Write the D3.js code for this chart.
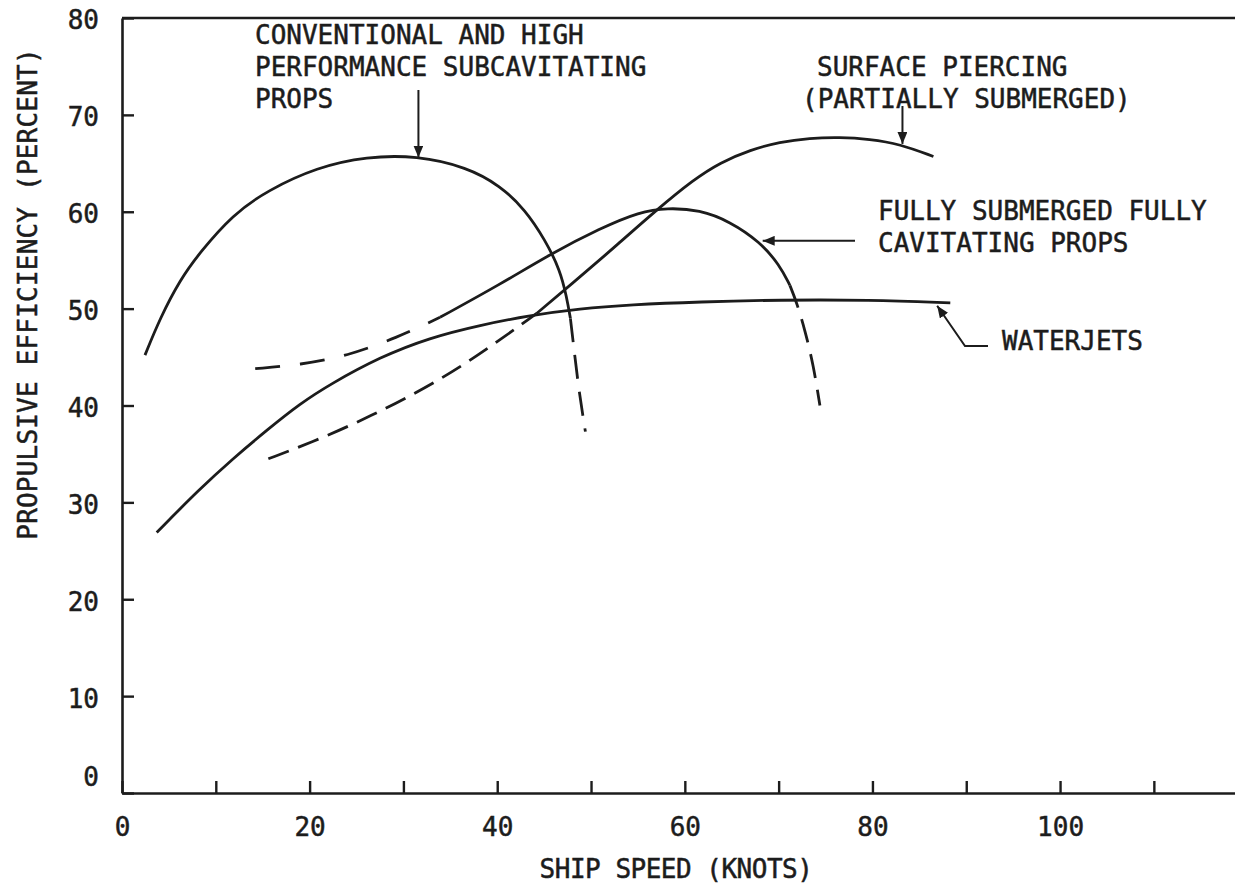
<!DOCTYPE html>
<html>
<head>
<meta charset="utf-8">
<script src="https://cdn.jsdelivr.net/npm/d3@7"></script>
<style>
  body { margin: 0; background: #fff; }
  svg text { font-family: "DejaVu Sans Mono", monospace; font-size: 26px; fill: #1c1c1c; stroke: #1c1c1c; stroke-width: 0.5px; }
</style>
</head>
<body>
<svg id="chart" width="1235" height="884"></svg>
<script>
// axis ticks
var xTicks = [0, 10, 20, 30, 40, 50, 60, 70, 80, 90, 100, 110];
var xLabelled = [0, 20, 40, 60, 80, 100];
var yTicks = [0, 10, 20, 30, 40, 50, 60, 70, 80];

// curves, [ship speed (knots), propulsive efficiency (%)]
var convSolid = [[2.45, 45.2], [4.05, 49.0], [6.2, 53.0], [8.3, 55.8], [11.8, 59.7], [15.5, 62.2],
                 [20.8, 64.6], [26.1, 65.7], [31.4, 65.8], [36.8, 64.6], [40.3, 62.7], [43.0, 60.2],
                 [45.1, 57.1], [46.7, 54.0], [47.4, 51.2], [47.8, 49.0]];
var convDash = [[47.8, 49.0], [48.2, 45.7], [48.7, 41.6], [49.4, 37.3]];

var waterjets = [[3.7, 26.9], [8.3, 31.4], [11.8, 34.5], [15.5, 37.5], [19.0, 40.2], [22.2, 42.2],
                 [27.5, 45.0], [32.8, 47.0], [38.2, 48.3], [43.5, 49.3], [48.8, 50.0], [54.2, 50.4],
                 [61.6, 50.7], [70.1, 50.9], [79.7, 50.9], [88.3, 50.6]];

var fullyDashA = [[14.2, 43.8], [19.0, 44.2], [24.0, 45.1], [29.3, 47.0], [33.9, 49.1]];
var fullySolid = [[33.9, 49.1], [40.3, 52.5], [45.6, 55.6], [51.0, 58.3], [55.2, 60.0], [58.1, 60.4],
                  [61.6, 60.2], [64.8, 59.0], [68.0, 56.9], [70.1, 54.5], [71.2, 52.4]];
var fullyDashB = [[71.2, 52.4], [71.9, 50.7], [72.8, 47.8], [73.7, 44.2], [74.4, 40.0]];

var surfDash = [[15.6, 34.5], [20.0, 36.1], [26.4, 38.8], [33.9, 42.6], [39.2, 46.0], [44.2, 49.5]];
var surfSolid = [[44.2, 49.5], [49.1, 53.5], [52.8, 56.6], [57.0, 60.2], [60.9, 63.3], [63.8, 65.1],
                 [67.0, 66.4], [70.1, 67.2], [73.3, 67.6], [76.5, 67.7], [79.7, 67.5], [82.9, 67.0],
                 [86.5, 65.7]];

// labels
var convLabel = ["CONVENTIONAL AND HIGH", "PERFORMANCE SUBCAVITATING", "PROPS"];
var surfLabel = ["SURFACE PIERCING", "(PARTIALLY SUBMERGED)"];
var fullyLabel = ["FULLY SUBMERGED FULLY", "CAVITATING PROPS"];
var jetLabel = ["WATERJETS"];
var xTitle = "SHIP SPEED (KNOTS)";
var yTitle = "PROPULSIVE EFFICIENCY (PERCENT)";

var ink = "#1c1c1c";
var svg = d3.select("#chart");

var x = d3.scaleLinear().domain([0, 118.65]).range([122, 1235]);
var y = d3.scaleLinear().domain([0, 80]).range([793, 18]);

// arrowhead
svg.append("defs").append("marker")
    .attr("id", "head")
    .attr("viewBox", "0 0 12 10")
    .attr("refX", 12).attr("refY", 5)
    .attr("markerWidth", 12).attr("markerHeight", 10)
    .attr("markerUnits", "userSpaceOnUse")
    .attr("orient", "auto")
  .append("path")
    .attr("d", "M0,0 L12,5 L0,10 Z")
    .attr("fill", ink);

// top frame line
svg.append("line")
    .attr("x1", x(0)).attr("x2", 1235)
    .attr("y1", y(80)).attr("y2", y(80))
    .attr("stroke", ink).attr("stroke-width", 2.6);

// x axis
var xAxis = d3.axisBottom(x)
    .tickValues(xTicks)
    .tickSizeInner(-12)
    .tickSizeOuter(0)
    .tickFormat(function(d) { return xLabelled.indexOf(d) >= 0 ? d : ""; });

var gx = svg.append("g")
    .attr("transform", "translate(0," + y(0) + ")")
    .call(xAxis);
gx.select(".domain").attr("stroke", ink).attr("stroke-width", 2.6);
gx.selectAll(".tick line").attr("stroke", ink).attr("stroke-width", 2.4);
gx.selectAll(".tick text")
    .attr("y", 43).attr("dy", 0)
    .style("font-family", "DejaVu Sans Mono").style("font-size", "26px").attr("fill", ink);

// y axis
var yAxis = d3.axisLeft(y)
    .tickValues(yTicks)
    .tickSizeInner(-12)
    .tickSizeOuter(0)
    .tickPadding(23);

var gy = svg.append("g")
    .attr("transform", "translate(" + x(0) + ",0)")
    .call(yAxis);
gy.select(".domain").attr("stroke", ink).attr("stroke-width", 2.6);
gy.selectAll(".tick line").attr("stroke", ink).attr("stroke-width", 2.4);
gy.selectAll(".tick text")
    .attr("dy", function(d) { return d === 0 ? "-0.3em" : "0.42em"; })
    .style("font-family", "DejaVu Sans Mono").style("font-size", "26px").attr("fill", ink);

// axis titles
svg.append("text")
    .attr("x", 676).attr("y", 878)
    .attr("text-anchor", "middle")
    .style("letter-spacing", "-0.5px")
    .text(xTitle);

svg.append("text")
    .attr("transform", "translate(37,294) rotate(-90)")
    .attr("text-anchor", "middle")
    .style("letter-spacing", "0.2px")
    .text(yTitle);

// curves
var line = d3.line()
    .x(function(d) { return x(d[0]); })
    .y(function(d) { return y(d[1]); })
    .curve(d3.curveBasis);

var segments = [
  { pts: convSolid, dash: null },
  { pts: convDash, dash: "24,13" },
  { pts: waterjets, dash: null },
  { pts: fullyDashA, dash: "25,20" },
  { pts: fullySolid, dash: null },
  { pts: fullyDashB, dash: "24,12" },
  { pts: surfDash, dash: "22,10" },
  { pts: surfSolid, dash: null }
];

svg.selectAll("path.curve")
    .data(segments)
    .enter().append("path")
    .attr("class", "curve")
    .attr("d", function(d) { return line(d.pts); })
    .attr("fill", "none")
    .attr("stroke", ink)
    .attr("stroke-width", 2.8)
    .attr("stroke-linecap", "butt")
    .attr("stroke-dasharray", function(d) { return d.dash; });

// annotation text blocks
function block(lines, x0, y0, firstDx) {
  svg.append("g").selectAll("text")
      .data(lines)
      .enter().append("text")
      .attr("x", function(d, i) { return x0 + (i > 0 ? firstDx : 0); })
      .attr("y", function(d, i) { return y0 + i * 32; })
      .text(function(d) { return d; });
}
block(convLabel, 255, 44, 0);
block(surfLabel, 817, 76, -15);   // "(" of the second line hangs to the left
block(fullyLabel, 878, 220, 0);
block(jetLabel, 1002, 350, 0);

// arrows
function arrow(pts) {
  svg.append("path")
      .attr("d", d3.line()(pts))
      .attr("fill", "none")
      .attr("stroke", ink)
      .attr("stroke-width", 2)
      .attr("marker-end", "url(#head)");
}
arrow([[x(31.6), 90], [x(31.6), y(65.6)]]);
arrow([[x(83.2), 106], [x(83.2), y(67.0)]]);
arrow([[855, y(57.0)], [x(68.3), y(57.0)]]);
arrow([[988, 346], [965, 346], [x(86.9), y(50.3)]]);
</script>
</body>
</html>
